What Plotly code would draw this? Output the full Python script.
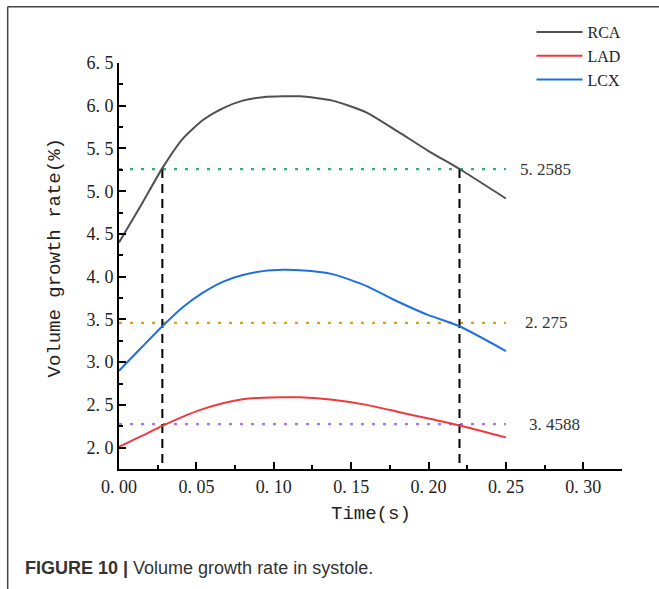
import plotly.graph_objects as go

# ---- data ----
time_s = [0, 0.015, 0.028, 0.041, 0.054, 0.067, 0.080, 0.093, 0.106, 0.117,
          0.138, 0.160, 0.180, 0.200, 0.220, 0.250]
rca = [4.40, 4.86, 5.27, 5.61, 5.83, 5.97, 6.06, 6.10, 6.11, 6.11,
       6.06, 5.92, 5.70, 5.47, 5.26, 4.915]
lad = [2.01, 2.14, 2.255, 2.36, 2.45, 2.52, 2.565, 2.585, 2.59, 2.588,
       2.56, 2.50, 2.42, 2.34, 2.26, 2.12]
lcx = [2.90, 3.18, 3.42, 3.64, 3.81, 3.94, 4.02, 4.065, 4.08, 4.075,
       4.03, 3.89, 3.71, 3.55, 3.42, 3.13]

series_names = ["RCA", "LAD", "LCX"]
series_colors = ["#505050", "#f0393f", "#1f6fe0"]

ref_levels = [5.2585, 3.4588, 2.275]            # dotted line heights
ref_labels = ["5. 2585", "2. 275", "3. 4588"]   # labels as printed
ref_colors = ["#2fb36a", "#d9a21a", "#b070e8"]
ref_span = [0, 0.25]

vline_times = [0.028, 0.22]
vline_top = 5.2585

x_ticks = [0, 0.05, 0.10, 0.15, 0.20, 0.25, 0.30]
x_ticktext = ["0. 00", "0. 05", "0. 10", "0. 15", "0. 20", "0. 25", "0. 30"]
y_ticks = [2.0, 2.5, 3.0, 3.5, 4.0, 4.5, 5.0, 5.5, 6.0, 6.5]
y_ticktext = ["2. 0", "2. 5", "3. 0", "3. 5", "4. 0", "4. 5", "5. 0", "5. 5", "6. 0", "6. 5"]

x_range = [0, 0.325]
y_range = [1.75, 6.5]

fig = go.Figure()

# reference dotted lines
for lvl, col in zip(ref_levels, ref_colors):
    fig.add_trace(go.Scatter(x=ref_span, y=[lvl, lvl], mode="lines",
                             line=dict(color=col, width=2.2, dash="3px,8px"),
                             showlegend=False, hoverinfo="skip"))

# vertical dashed lines
for t in vline_times:
    fig.add_trace(go.Scatter(x=[t, t], y=[vline_top, y_range[0]], mode="lines",
                             line=dict(color="black", width=2, dash="9px,6px"),
                             showlegend=False, hoverinfo="skip"))

for name, ys, col in zip(series_names, [rca, lad, lcx], series_colors):
    fig.add_trace(go.Scatter(x=time_s, y=ys, mode="lines", name=name,
                             line=dict(color=col, width=2, shape="spline", smoothing=0.6)))

for lvl, lab, dx in zip(ref_levels, ref_labels, [12, 17, 21]):
    fig.add_annotation(x=ref_span[1], y=lvl, text=lab, showarrow=False,
                       xanchor="left", yanchor="middle", xshift=dx,
                       font=dict(family="Liberation Serif", size=17, color="#333"))

serif = "Liberation Serif"
fig.update_xaxes(range=x_range, tickvals=x_ticks, ticktext=x_ticktext,
                 ticks="inside", ticklen=7, tickwidth=2, tickcolor="black",
                 showline=True, linewidth=2, linecolor="black", showgrid=False,
                 zeroline=False,
                 minor=dict(dtick=0.025, tick0=0, ticks="inside", ticklen=4,
                            tickwidth=1.5, tickcolor="black", showgrid=False),
                 tickfont=dict(family=serif, size=18, color="#222"))
fig.update_yaxes(range=y_range, tickvals=y_ticks, ticktext=y_ticktext,
                 ticks="inside", ticklen=7, tickwidth=2, tickcolor="black",
                 showline=True, linewidth=2, linecolor="black", showgrid=False,
                 zeroline=False,
                 minor=dict(dtick=0.25, tick0=0, ticks="inside", ticklen=4,
                            tickwidth=1.5, tickcolor="black", showgrid=False),
                 tickfont=dict(family=serif, size=18, color="#222"))

# axis titles
fig.add_annotation(xref="paper", yref="paper", x=0.5, y=-0.11, text="Time(s)",
                   showarrow=False, xanchor="center", yanchor="middle",
                   font=dict(family="Liberation Mono", size=19, color="#222"))
fig.add_annotation(xref="paper", yref="paper", x=-0.128, y=0.52,
                   text="Volume growth rate(%)", textangle=-90,
                   showarrow=False, xanchor="center", yanchor="middle",
                   font=dict(family="Liberation Mono", size=19, color="#222"))

# caption
fig.add_annotation(xref="paper", yref="paper", x=-0.19, y=-0.245,
                   text="<b>FIGURE 10 |</b> Volume growth rate in systole.",
                   showarrow=False, xanchor="left", yanchor="middle",
                   font=dict(family="Liberation Sans", size=18, color="#333"))

# outer frame (top and left edges)
fig.add_shape(type="line", xref="paper", yref="paper", x0=-0.2213, x1=1.08,
              y0=1.1388, y1=1.1388, line=dict(color="#444", width=1.5))
fig.add_shape(type="line", xref="paper", yref="paper", x0=-0.2213, x1=-0.2213,
              y0=1.1388, y1=-0.3, line=dict(color="#444", width=1.5))

fig.update_layout(
    width=659, height=589,
    margin=dict(l=119, r=37, t=63, b=120),
    paper_bgcolor="white", plot_bgcolor="white",
    legend=dict(x=0.82, y=1.118, xanchor="left", yanchor="top",
                font=dict(family=serif, size=16, color="#222"),
                bgcolor="rgba(0,0,0,0)", itemwidth=46, tracegroupgap=0),
)

fig.write_html("out.html")
